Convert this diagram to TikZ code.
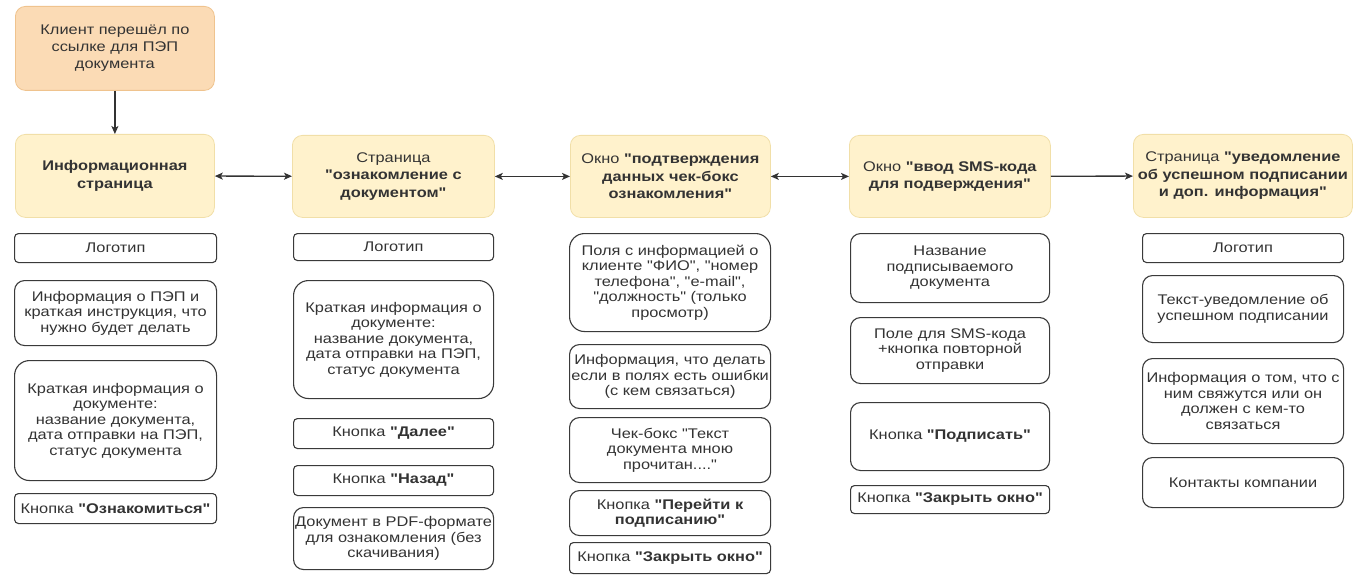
\documentclass[tikz,border=0pt]{standalone}
\usepackage{fontspec}
\setmainfont{Liberation Sans}[FakeStretch=1.17, Ligatures=TeXOff]
\usetikzlibrary{arrows.meta}
\definecolor{topfill}{HTML}{FBDBB5}
\definecolor{topline}{HTML}{EFC38E}
\definecolor{headfill}{HTML}{FFF2CC}
\definecolor{headline}{HTML}{F1DFA8}
\definecolor{boxline}{HTML}{3A3A3A}
\definecolor{txt}{HTML}{333333}
\definecolor{arr}{HTML}{333333}
\newcommand{\bx}[7]{\node[#6, minimum width={#4-#2}, minimum height={#5-#3}, anchor=north west] (#1) at (#2,#3) {#7};}
\begin{document}
\begin{tikzpicture}[x=1pt,y=-1pt,
  base/.style={inner sep=0pt, align=center, text=txt},
  topbox/.style={base, fill=topfill, draw=topline, line width=0.8pt, rounded corners=10pt, font=\fontsize{14}{17}\selectfont},
  headbox/.style={base, fill=headfill, draw=headline, line width=0.8pt, rounded corners=10pt, font=\fontsize{14}{17.5}\selectfont},
  sub/.style={base, draw=boxline, line width=1.1pt, fill=white, font=\fontsize{14}{15.5}\selectfont},
  rs/.style={sub, rounded corners=4pt},
  rm/.style={sub, rounded corners=10pt},
  rl/.style={sub, rounded corners=15pt},
  conn/.style={draw=arr, line width=1.3pt},
  tip/.tip={Stealth[length=8pt,width=7pt,inset=2pt]}
]
\useasboundingbox (0,0) rectangle (1361,575);

% top
\bx{start}{15}{6}{214}{90}{topbox}{Клиент перешёл по\\ссылке для ПЭП\\документа}

% headers
\bx{h1}{15}{134}{214}{217}{headbox}{\textbf{Информационная}\\\textbf{страница}}
\bx{h2}{292}{135}{494}{217}{headbox}{Страница\\\textbf{"ознакомление с}\\\textbf{документом"}}
\bx{h3}{570}{135}{770}{217}{headbox}{Окно \textbf{"подтверждения}\\\textbf{данных чек-бокс}\\\textbf{ознакомления"}}
\bx{h4}{849}{135}{1050}{217}{headbox}{Окно \textbf{"ввод SMS-кода}\\\textbf{для подверждения"}}
\bx{h5}{1133}{134}{1352}{217}{headbox}{Страница \textbf{"уведомление}\\\textbf{об успешном подписании}\\\textbf{и доп. информация"}}

% column 1
\bx{a1}{14}{233}{216}{262}{rs}{Логотип}
\bx{a2}{14}{280}{216}{345}{rm}{Информация о ПЭП и\\краткая инструкция, что\\нужно будет делать}
\bx{a3}{14}{360}{216}{480}{rl}{Краткая информация о\\документе:\\название документа,\\дата отправки на ПЭП,\\статус документа}
\bx{a4}{14}{493}{216}{523}{rs}{Кнопка \textbf{"Ознакомиться"}}

% column 2
\bx{b1}{293}{233}{493}{260}{rs}{Логотип}
\bx{b2}{293}{280}{493}{398}{rl}{Краткая информация о\\документе:\\название документа,\\дата отправки на ПЭП,\\статус документа}
\bx{b3}{293}{418}{493}{448}{rs}{Кнопка \textbf{"Далее"}}
\bx{b4}{293}{465}{493}{495}{rs}{Кнопка \textbf{"Назад"}}
\bx{b5}{293}{507}{493}{569}{rm}{Документ в PDF-формате\\для ознакомления (без\\скачивания)}

% column 3
\bx{c1}{569}{233}{770}{331}{rl}{Поля с информацией о\\клиенте "ФИО", "номер\\телефона", "e-mail",\\"должность" (только\\просмотр)}
\bx{c2}{569}{344}{770}{408}{rm}{Информация, что делать\\если в полях есть ошибки\\(с кем связаться)}
\bx{c3}{569}{417}{770}{482}{rm}{Чек-бокс "Текст\\документа мною\\прочитан...."}
\bx{c4}{569}{490}{770}{535}{rm}{Кнопка \textbf{"Перейти к}\\\textbf{подписанию"}}
\bx{c5}{569}{542}{770}{573}{rs}{Кнопка \textbf{"Закрыть окно"}}

% column 4
\bx{d1}{850}{233}{1049}{302}{rm}{Название\\подписываемого\\документа}
\bx{d2}{850}{317}{1049}{383}{rm}{Поле для SMS-кода\\+кнопка повторной\\отправки}
\bx{d3}{850}{402}{1049}{470}{rm}{Кнопка \textbf{"Подписать"}}
\bx{d4}{850}{485}{1049}{513}{rs}{Кнопка \textbf{"Закрыть окно"}}

% column 5
\bx{e1}{1142}{233}{1343}{262}{rs}{Логотип}
\bx{e2}{1142}{275}{1343}{342}{rm}{Текст-уведомление об\\успешном подписании}
\bx{e3}{1142}{358}{1343}{443}{rm}{Информация о том, что с\\ним свяжутся или он\\должен с кем-то\\связаться}
\bx{e4}{1142}{457}{1343}{507}{rm}{Контакты компании}

% connectors
\draw[conn,-tip] (start) -- (h1);
\draw[conn,tip-tip] (h1) -- (h2);
\draw[conn,tip-tip] (h2) -- (h3);
\draw[conn,tip-tip] (h3) -- (h4);
\draw[conn,-tip] (h4) -- (h5);
\end{tikzpicture}
\end{document}
